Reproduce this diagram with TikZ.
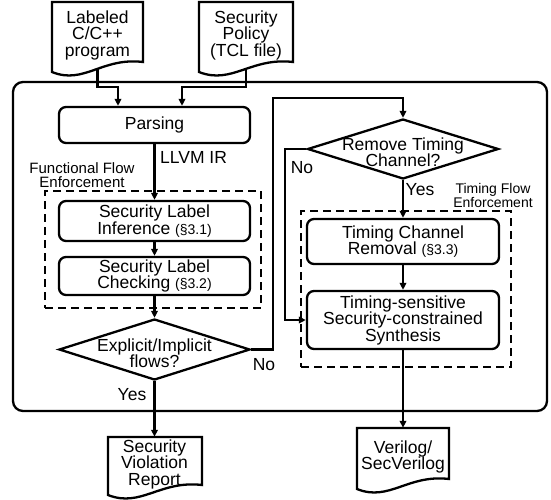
\documentclass[tikz,border=0pt]{standalone}
\usepackage{fontspec}
\setmainfont{Liberation Sans}
\usetikzlibrary{shapes.geometric,arrows.meta}
\begin{document}
\begin{tikzpicture}[x=1pt,y=-1pt,
  every node/.style={font=\fontsize{17.5}{16.5}\selectfont, align=center, inner sep=0pt},
  proc/.style={draw, line width=2.3pt, rounded corners=7pt, minimum width=191pt},
  dec/.style={draw, diamond, line width=2.3pt, minimum width=191pt, inner sep=0pt},
  arr/.style={line width=2.3pt, -{Triangle[length=7pt,width=6.5pt]}},
  grp/.style={draw, line width=2.3pt, dash pattern=on 8pt off 5pt},
  docline/.style={line width=2.3pt, line join=miter},
  sm/.style={font=\fontsize{14}{14}\selectfont},
  lbl/.style={font=\fontsize{15}{14}\selectfont}
]
\useasboundingbox (0,0) rectangle (551,499);

% outer frame
\node[draw, line width=2.3pt, rounded corners=10pt, minimum width=534pt, minimum height=329pt] (outer) at (280,246.5) {};

% documents
\draw[docline] (52,2) -- (143,2) -- (143,62) .. controls (102,57) and (84,85) .. (52,72) -- cycle;
\draw[docline] (199,2) -- (293,2) -- (293,62) .. controls (251,57) and (232,85) .. (199,72) -- cycle;
\draw[docline] (108,437) -- (202,437) -- (202,485) .. controls (160,480) and (141,508) .. (108,495) -- cycle;
\draw[docline] (357,428) -- (449,428) -- (449,479) .. controls (408,474) and (389,502) .. (357,489) -- cycle;

\node[minimum width=91pt, minimum height=66pt] (src) at (97.5,35) {Labeled\\C/C++\\program};
\node[minimum width=94pt, minimum height=66pt] (pol) at (246,35) {Security\\Policy\\(TCL file)};
\node[minimum width=94pt, minimum height=54pt] (rep) at (154.5,464) {Security\\Violation\\Report};
\node[minimum width=92pt, minimum height=58pt] (vlog) at (403,457) {Verilog/\\SecVerilog};

% left column
\node[proc, minimum height=36pt] (parse) at (154.5,125) {Parsing};
\node[grp, minimum width=216pt, minimum height=117pt] (ffe) at (153,249.5) {};
\node[proc, minimum height=40pt] (sli) at (154.5,221) {Security Label\\Inference {\fontsize{14}{16.5}\selectfont(§3.1)}};
\node[proc, minimum height=38pt] (slc) at (154.5,276) {Security Label\\Checking {\fontsize{14}{16.5}\selectfont(§3.2)}};
\node[dec, minimum height=61pt] (dec1) at (154.5,349.5) {};
\node (dec1t) at (154.5,353) {Explicit/Implicit\\flows?};

% right column
\node[dec, minimum height=60pt] (dec2) at (403,149) {};
\node (dec2t) at (403,152) {Remove Timing\\Channel?};
\node[grp, minimum width=210pt, minimum height=156pt] (tfe) at (406,289) {};
\node[proc, minimum width=192pt, minimum height=45pt] (tcr) at (403,241.5) {Timing Channel\\Removal {\fontsize{14}{16.5}\selectfont(§3.3)}};
\node[proc, minimum width=192pt, minimum height=58pt] (syn) at (403,320) {Timing-sensitive\\Security-constrained\\Synthesis};

% labels
\node[anchor=west] (llvm) at (160,157) {LLVM IR};
\node[lbl] (ffel) at (82,175) {Functional Flow\\Enforcement};
\node[sm] (tfel) at (493,195) {Timing Flow\\Enforcement};
\node (no1) at (264,365) {No};
\node (yes1) at (132,395) {Yes};
\node (no2) at (302,168) {No};
\node (yes2) at (420,190) {Yes};

% connectors
\coordinate (bendA) at (273,98);
\coordinate (bendB) at (285,149);
\draw[arr] (src.south) -- (97.5,87) -| ([xshift=-36.5pt]parse.north);
\draw[arr] (pol.south) -- (246,87) -| ([xshift=27.5pt]parse.north);
\draw[arr] (parse) -- (sli);
\draw[arr] (sli) -- (slc);
\draw[arr] (slc) -- (dec1);
\draw[arr] (dec1.south) -- (rep.north);
\draw[arr] (dec1.east) -| (bendA) -| (dec2.north);
\draw[arr] (dec2.west) -- (bendB) |- (syn.west);
\draw[arr] (dec2.south) -- (tcr.north);
\draw[arr] (tcr) -- (syn);
\draw[arr] (syn) -- (vlog.north);
\end{tikzpicture}
\end{document}
